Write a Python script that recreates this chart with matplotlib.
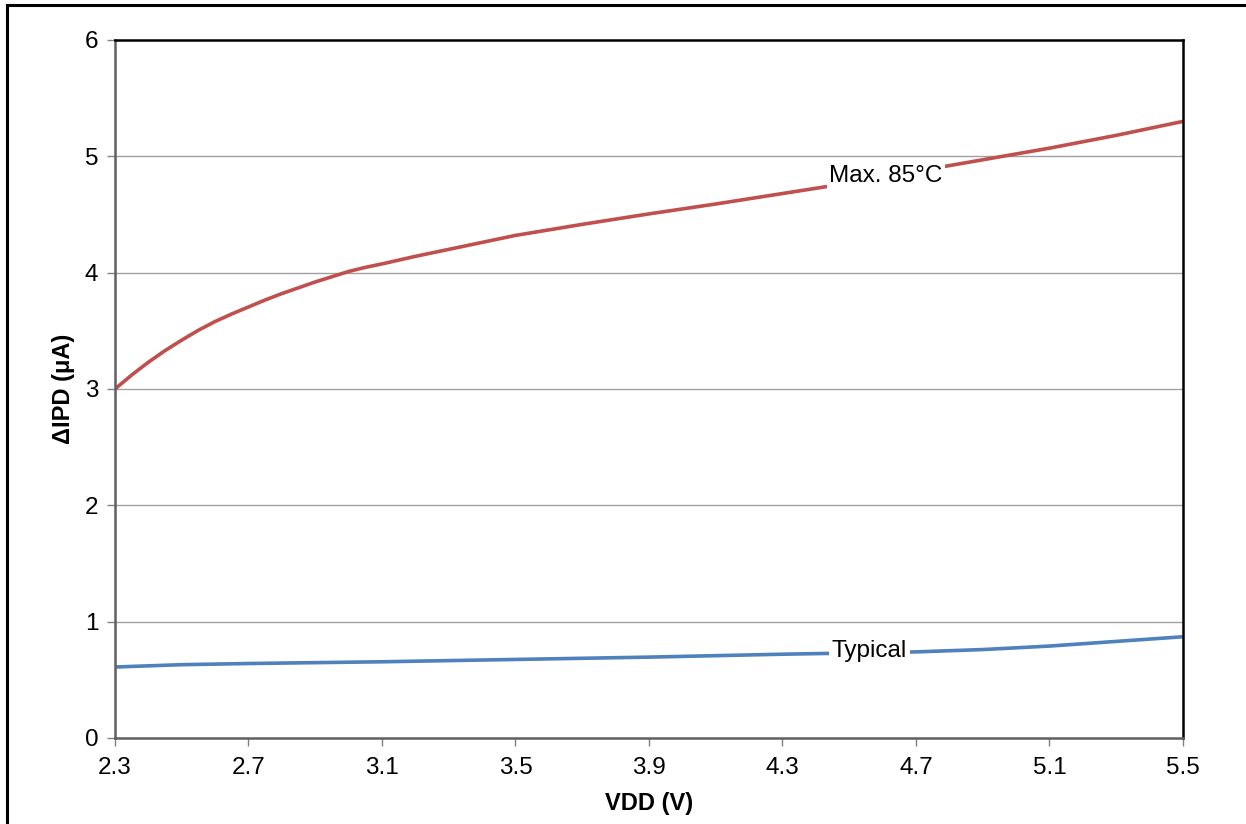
import numpy as np
import matplotlib
matplotlib.use('Agg')
import matplotlib.pyplot as plt
from matplotlib.lines import Line2D

plt.rcParams['font.family'] = ['Liberation Sans', 'DejaVu Sans']

# data
vdd_max = [2.3, 2.35, 2.4, 2.45, 2.5, 2.55, 2.6, 2.65, 2.7, 2.75, 2.8, 2.85, 2.9, 2.95, 3.0, 3.05, 3.1,
	3.2, 3.3, 3.4, 3.5, 3.7, 3.9, 4.1, 4.3, 4.5, 4.7, 4.9, 5.1, 5.3, 5.5]
ipd_max = [3.00, 3.12, 3.23, 3.33, 3.42, 3.505, 3.58, 3.645, 3.705, 3.765, 3.82, 3.87, 3.92, 3.965, 4.01, 4.045, 4.075,
	4.14, 4.20, 4.26, 4.32, 4.415, 4.505, 4.59, 4.68, 4.77, 4.87, 4.97, 5.07, 5.18, 5.30]

vdd_typ = [2.3, 2.5, 2.7, 3.1, 3.5, 3.9, 4.3, 4.5, 4.7, 4.9, 5.1, 5.3, 5.5]
ipd_typ = [0.61, 0.63, 0.64, 0.655, 0.675, 0.695, 0.72, 0.73, 0.74, 0.76, 0.79, 0.83, 0.87]

x_ticks = [2.3, 2.7, 3.1, 3.5, 3.9, 4.3, 4.7, 5.1, 5.5]
y_ticks = [0, 1, 2, 3, 4, 5, 6]

red = '#C0504D'
blue = '#4F81BD'

fig = plt.figure(figsize=(12.46, 8.24), dpi=100)
ax = fig.add_axes([0.0923, 0.1044, 0.8571, 0.8471])

# gridlines
for yv in y_ticks[1:-1]:
	ax.axhline(yv, color='#A0A0A0', lw=1.0, zorder=1)

ax.plot(vdd_max, ipd_max, color=red, lw=2.6, zorder=2, solid_capstyle='butt', solid_joinstyle='round')
ax.plot(vdd_typ, ipd_typ, color=blue, lw=2.6, zorder=2, solid_capstyle='butt', solid_joinstyle='round')

# inline labels
ax.text(4.61, 4.83, 'Max. 85°C', fontsize=17.5, ha='center', va='center', zorder=3,
	bbox=dict(facecolor='white', edgecolor='none', pad=2))
ax.text(4.56, 0.745, 'Typical', fontsize=17.5, ha='center', va='center', zorder=3,
	bbox=dict(facecolor='white', edgecolor='none', pad=2))

ax.set_xlim(2.3, 5.5)
ax.set_ylim(0, 6)
ax.set_xticks(x_ticks)
ax.set_yticks(y_ticks)
ax.set_xticklabels([str(v) for v in x_ticks])
ax.set_yticklabels([str(v) for v in y_ticks])
ax.tick_params(axis='both', labelsize=17.5, color='#808080', width=1.0, length=6, direction='out')
ax.tick_params(axis='x', pad=8)
ax.tick_params(axis='y', pad=6)

for side in ['left', 'bottom']:
	ax.spines[side].set_color('#606060')
	ax.spines[side].set_linewidth(1.8)
for side in ['top', 'right']:
	ax.spines[side].set_color('black')
	ax.spines[side].set_linewidth(1.8)

ax.set_xlabel('VDD (V)', fontsize=17, fontweight='bold', labelpad=9)
ax.set_ylabel('ΔIPD (μA)', fontsize=17, fontweight='bold', labelpad=7)

# outer frame (top and left only visible in the crop)
fig.add_artist(Line2D([7/1246, 1.0], [1-5/824, 1-5/824], color='black', lw=2.2, transform=fig.transFigure))
fig.add_artist(Line2D([7/1246, 7/1246], [0.0, 1-5/824], color='black', lw=2.2, transform=fig.transFigure))

fig.savefig('out.png', dpi=100)
